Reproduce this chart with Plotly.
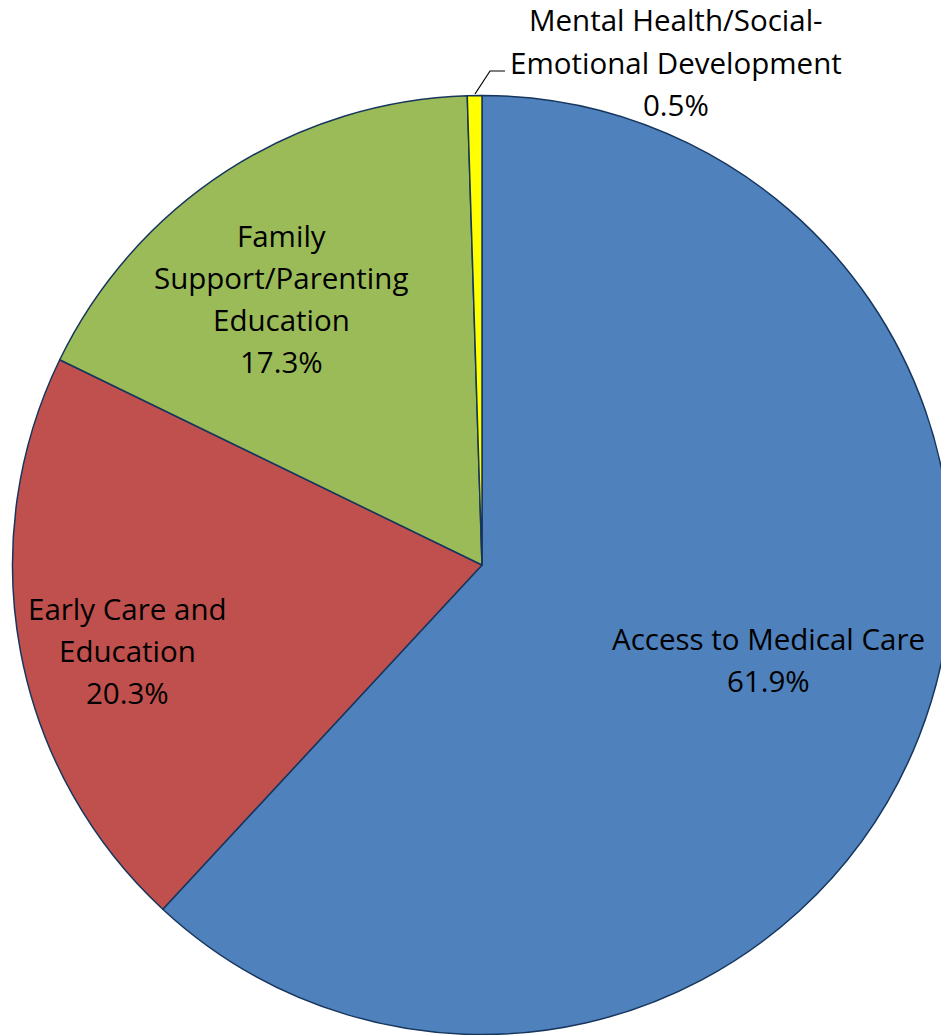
import plotly.graph_objects as go

# ---- data ----
categories = ["Access to Medical Care", "Early Care and Education",
              "Family Support/Parenting Education",
              "Mental Health/Social-Emotional Development"]
shares = [61.9, 20.3, 17.3, 0.5]
display_labels = ["Access to Medical Care", "Early Care and<br>Education",
                  "Family<br>Support/Parenting<br>Education",
                  "Mental Health/Social-<br>Emotional Development"]
colors = ["#4F81BD", "#C0504D", "#9BBB59", "#FFFF00"]

W, H = 960, 1035
# label anchor (pixel center x, first line center y) -- layout only
label_pos = [(768, 638), (127, 608), (281, 235), (676, 20)]
line_step = 42.3
FONT = "Open Sans, Carlito, Calibri, sans-serif"
FSIZE = 29.5

cx, cy, r = 482, 565, 469.5

fig = go.Figure(go.Pie(
    labels=categories, values=shares, sort=False, direction="clockwise",
    rotation=0, textinfo="none", hoverinfo="label+percent",
    marker=dict(colors=colors, line=dict(color="#17365D", width=1.5)),
    domain=dict(x=[(cx - r) / W, (cx + r) / W],
                y=[max(0, 1 - (cy + r) / H), 1 - (cy - r) / H]),
    showlegend=False,
))

annotations = []
for lab, val, (px, py) in zip(display_labels, shares, label_pos):
    lines = lab.split("<br>") + [f"{val:.1f}%"]
    for i, ln in enumerate(lines):
        annotations.append(dict(
            x=px / W, y=1 - (py + i * line_step) / H,
            xref="paper", yref="paper",
            text=ln, showarrow=False, xanchor="center", yanchor="middle",
            font=dict(family=FONT, size=FSIZE, color="black")))

# leader line for the small slice
pts = [(475, 94), (490, 71), (505, 71)]
path = "M " + " L ".join(f"{x / W} {1 - y / H}" for x, y in pts)
shapes = [dict(type="path", xref="paper", yref="paper", path=path,
               line=dict(color="black", width=1.2))]

fig.update_layout(width=W, height=H, margin=dict(l=0, r=0, t=0, b=0),
                  paper_bgcolor="white", plot_bgcolor="white",
                  annotations=annotations, shapes=shapes)
fig.write_html("out.html", config={"displayModeBar": False},
               post_script="document.body.style.margin='0';"
                           "document.body.style.overflow='hidden';")
